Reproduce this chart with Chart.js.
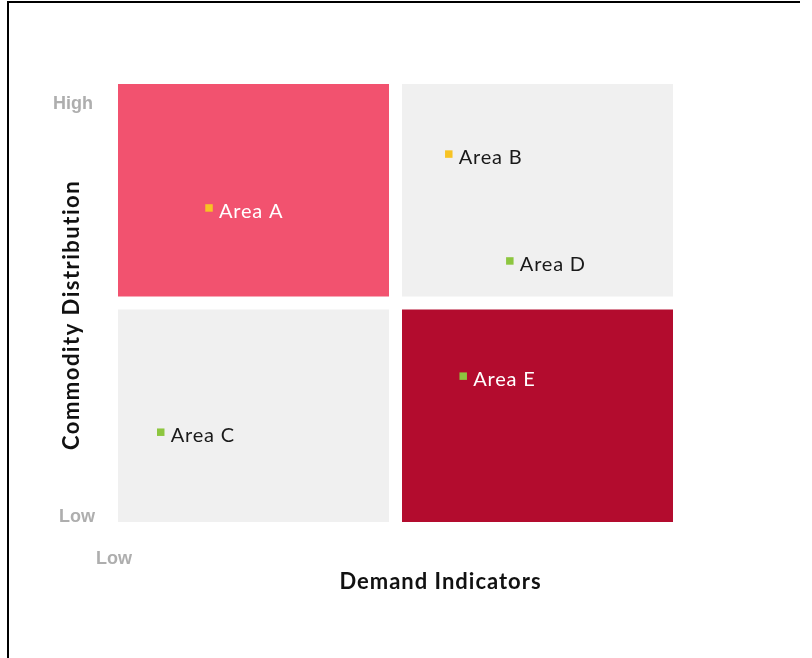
<!DOCTYPE html>
<html lang="en">
<head>
<meta charset="UTF-8">
<title>Demand vs Distribution</title>
<script src="https://cdn.jsdelivr.net/npm/chart.js"></script>
<style>
  html, body { margin: 0; padding: 0; background: #fff; }
  #wrap { width: 812px; height: 658px; }
</style>
</head>
<body>
<div id="wrap"><canvas id="myChart" width="812" height="658"></canvas></div>
<script>
// point data
const areaNames = ['Area A', 'Area B', 'Area C', 'Area D', 'Area E'];
const demandValues = [1.64, 5.96, 0.77, 7.06, 6.22];
const distributionValues = [7.17, 8.40, 2.05, 5.96, 3.33];
const markerColors = ['#F7C324', '#F7C324', '#8DC63F', '#8DC63F', '#8DC63F'];
const labelColors = ['#ffffff', '#1a1a1a', '#1a1a1a', '#1a1a1a', '#ffffff'];

// quadrants (data units)
const quadrantX = [[0, 5], [5, 10], [0, 5], [5, 10]];
const quadrantY = [[5, 10], [5, 10], [0, 5], [0, 5]];
const quadrantColors = ['#F2526F', '#F0F0F0', '#F0F0F0', '#B30C2E'];

// axis text
const yTickLabels = ['Low', 'High'];
const xTickLabels = ['Low'];
const xTitle = 'Demand Indicators';
const yTitle = 'Commodity Distribution';

const quadrantPlugin = {
  id: 'quadrants',
  beforeDatasetsDraw(chart) {
    const { ctx, scales: { x, y } } = chart;
    const gap = 6.5;
    ctx.save();
    quadrantX.forEach((qx, i) => {
      const qy = quadrantY[i];
      let l = x.getPixelForValue(qx[0]), r = x.getPixelForValue(qx[1]);
      let t = y.getPixelForValue(qy[1]), b = y.getPixelForValue(qy[0]);
      if (qx[0] > x.min) l += gap;
      if (qx[1] < x.max) r -= gap;
      if (qy[1] < y.max) t += gap;
      if (qy[0] > y.min) b -= gap;
      ctx.fillStyle = quadrantColors[i];
      ctx.fillRect(l, t, r - l, b - t);
    });
    ctx.restore();
  }
};

const textPlugin = {
  id: 'texts',
  afterDatasetsDraw(chart) {
    const { ctx, chartArea: a } = chart;
    const meta = chart.getDatasetMeta(0);
    ctx.save();
    // point labels
    ctx.font = '20px Lato';
    ctx.letterSpacing = '0.8px';
    ctx.textAlign = 'left';
    ctx.textBaseline = 'alphabetic';
    meta.data.forEach((pt, i) => {
      ctx.fillStyle = labelColors[i];
      ctx.fillText(areaNames[i], pt.x + 10, pt.y + 10);
    });
    // tick words
    ctx.letterSpacing = '0px';
    ctx.font = 'bold 18px "Liberation Sans"';
    ctx.fillStyle = '#AEAEAE';
    ctx.textAlign = 'center';
    ctx.textBaseline = 'middle';
    ctx.fillText(yTickLabels[1], 73, a.top + 20);
    ctx.fillText(yTickLabels[0], 77, a.bottom - 5);
    ctx.fillText(xTickLabels[0], 114, a.bottom + 37);
    // titles
    ctx.font = 'bold 22px Lato';
    ctx.fillStyle = '#111';
    ctx.letterSpacing = '1px';
    ctx.fillText(xTitle, (a.left + a.right) / 2 + 45, a.bottom + 60);
    ctx.letterSpacing = '1.5px';
    ctx.translate(72, (a.top + a.bottom) / 2 + 12);
    ctx.rotate(-Math.PI / 2);
    ctx.fillText(yTitle, 0, 0);
    ctx.restore();
    // frame
    ctx.save();
    ctx.strokeStyle = '#000';
    ctx.lineWidth = 2;
    ctx.beginPath();
    ctx.moveTo(8, 658);
    ctx.lineTo(8, 2);
    ctx.lineTo(800, 2);
    ctx.stroke();
    ctx.restore();
  }
};

new Chart(document.getElementById('myChart'), {
  type: 'scatter',
  data: {
    datasets: [{
      data: demandValues.map((v, i) => ({ x: v, y: distributionValues[i] })),
      backgroundColor: markerColors,
      borderWidth: 0,
      pointStyle: 'rect',
      pointRadius: 5.3,
      pointHoverRadius: 5.3
    }]
  },
  options: {
    responsive: false,
    animation: false,
    layout: { padding: { left: 118, top: 84, right: 139, bottom: 136 } },
    plugins: { legend: { display: false }, tooltip: { enabled: false } },
    scales: {
      x: { type: 'linear', min: 0, max: 10, display: false },
      y: { type: 'linear', min: 0, max: 10, display: false }
    }
  },
  plugins: [quadrantPlugin, textPlugin]
});
</script>
</body>
</html>
